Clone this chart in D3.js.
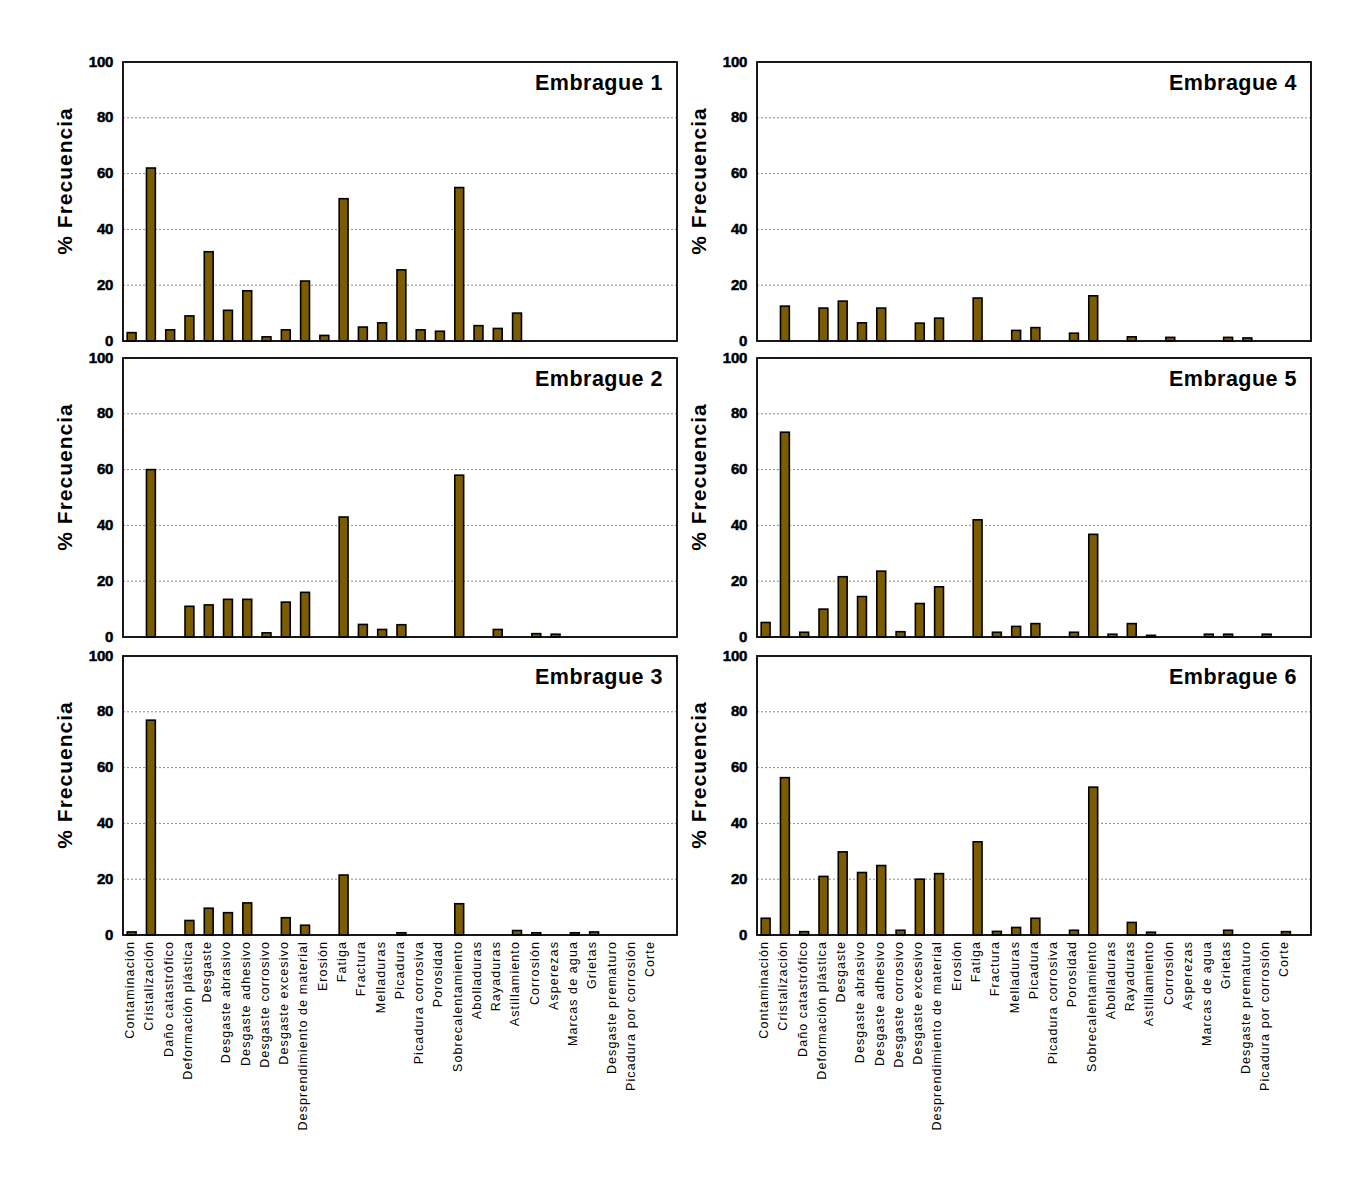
<!DOCTYPE html>
<html>
<head>
<meta charset="utf-8">
<script src="https://cdn.jsdelivr.net/npm/d3@7"></script>
<style>
  body { margin: 0; background: #fff; }
  svg { display: block; font-family: "Liberation Sans", Arial, sans-serif; }
  .tick-label { font-weight: bold; font-size: 15px; letter-spacing: -0.3px; stroke: #000; stroke-width: 0.5px; }
  .y-title { font-weight: bold; font-size: 21px; letter-spacing: 1px; }
  .panel-title { font-weight: bold; font-size: 21.5px; letter-spacing: 0.5px; }
  .cat-label { font-size: 12.5px; letter-spacing: 1.1px; }
</style>
</head>
<body>
<div id="chart"></div>
<script>
// Failure modes (x axis categories)
const categories = [
  'Contaminación', 'Cristalización', 'Daño catastrófico', 'Deformación plástica',
  'Desgaste', 'Desgaste abrasivo', 'Desgaste adhesivo', 'Desgaste corrosivo',
  'Desgaste excesivo', 'Desprendimiento de material', 'Erosión', 'Fatiga',
  'Fractura', 'Melladuras', 'Picadura', 'Picadura corrosiva', 'Porosidad',
  'Sobrecalentamiento', 'Abolladuras', 'Rayaduras', 'Astillamiento', 'Corrosión',
  'Asperezas', 'Marcas de agua', 'Grietas', 'Desgaste prematuro',
  'Picadura por corrosión', 'Corte'
];

// % frequency per clutch, one value per category
const embrague1 = [3, 62, 4, 9, 32, 11, 18, 1.5, 4, 21.5, 2, 51, 5, 6.5, 25.5, 4, 3.5, 55, 5.5, 4.5, 10, 0, 0, 0, 0, 0, 0, 0];
const embrague2 = [0, 60, 0, 11, 11.5, 13.5, 13.5, 1.5, 12.5, 16, 0, 43, 4.5, 2.7, 4.4, 0, 0, 58, 0, 2.7, 0, 1.2, 1, 0, 0, 0, 0, 0];
const embrague3 = [1.1, 77, 0, 5.2, 9.6, 8, 11.5, 0, 6.2, 3.5, 0, 21.5, 0, 0, 0.8, 0, 0, 11.2, 0, 0, 1.6, 0.8, 0, 0.8, 1.1, 0, 0, 0];
const embrague4 = [0, 12.5, 0, 11.8, 14.3, 6.5, 11.8, 0, 6.4, 8.2, 0, 15.4, 0, 3.8, 4.8, 0, 2.8, 16.2, 0, 1.5, 0, 1.3, 0, 0, 1.3, 1.1, 0, 0];
const embrague5 = [5.2, 73.4, 1.7, 10, 21.6, 14.5, 23.6, 1.9, 12, 18, 0, 42, 1.7, 3.8, 4.8, 0, 1.7, 36.8, 1, 4.8, 0.6, 0, 0, 1, 1, 0, 1, 0];
const embrague6 = [6, 56.4, 1.2, 21, 29.8, 22.4, 24.9, 1.7, 20, 22, 0, 33.4, 1.3, 2.7, 6, 0, 1.7, 53, 0, 4.5, 1, 0, 0, 0, 1.7, 0, 0, 1.2];

const titles = ['Embrague 1', 'Embrague 2', 'Embrague 3', 'Embrague 4', 'Embrague 5', 'Embrague 6'];
const seriesList = [embrague1, embrague2, embrague3, embrague4, embrague5, embrague6];
const yTicks = [0, 20, 40, 60, 80, 100];

const W = 1370, H = 1189;
const PLOT_W = 554, PLOT_H = 279;
const COL_X = [123, 757];
const ROW_Y = [62, 358, 656];
const BAR_COLOR = '#7c5c00';

const svg = d3.select('#chart').append('svg')
  .attr('width', W)
  .attr('height', H);

const xScale = d3.scaleBand()
  .domain(categories)
  .range([-1, PLOT_W * 28 / 28.75 - 1])
  .paddingInner(0.54)
  .paddingOuter(0.27);

const yScale = d3.scaleLinear().domain([0, 100]).range([PLOT_H, 0]);

seriesList.forEach((values, k) => {
  const col = Math.floor(k / 3);
  const row = k % 3;
  const g = svg.append('g')
    .attr('transform', `translate(${COL_X[col]},${ROW_Y[row]})`);

  // dotted gridlines
  g.selectAll('.grid')
    .data(yTicks.filter(t => t > 0 && t < 100))
    .join('line')
    .attr('x1', 0).attr('x2', PLOT_W)
    .attr('y1', d => yScale(d)).attr('y2', d => yScale(d))
    .attr('stroke', '#8a8a8a')
    .attr('stroke-width', 1)
    .attr('stroke-dasharray', '2,2');

  // y tick labels
  g.selectAll('.tick-label')
    .data(yTicks)
    .join('text')
    .attr('class', 'tick-label')
    .attr('x', -10)
    .attr('y', d => yScale(d))
    .attr('dy', '0.3em')
    .attr('text-anchor', 'end')
    .text(d => d);

  // bars
  const data = categories.map((c, i) => ({ c, v: values[i] })).filter(d => d.v > 0);
  g.selectAll('.bar')
    .data(data)
    .join('rect')
    .attr('x', d => xScale(d.c))
    .attr('y', d => yScale(d.v))
    .attr('width', xScale.bandwidth())
    .attr('height', d => yScale(0) - yScale(d.v))
    .attr('fill', BAR_COLOR)
    .attr('stroke', '#000')
    .attr('stroke-width', 1.6);

  // frame
  g.append('rect')
    .attr('width', PLOT_W)
    .attr('height', PLOT_H)
    .attr('fill', 'none')
    .attr('stroke', '#000')
    .attr('stroke-width', 1.8);

  g.append('text')
    .attr('class', 'panel-title')
    .attr('x', PLOT_W - 14)
    .attr('y', 28)
    .attr('text-anchor', 'end')
    .text(titles[k]);

  g.append('text')
    .attr('class', 'y-title')
    .attr('transform', `translate(-51,119) rotate(-90)`)
    .attr('text-anchor', 'middle')
    .text('% Frecuencia');

  // category labels only under the bottom row
  if (row === 2) {
    g.selectAll('.cat-label')
      .data(categories)
      .join('text')
      .attr('class', 'cat-label')
      .attr('transform', d => `translate(${xScale(d) + xScale.bandwidth() / 2 - 2},${PLOT_H + 6}) rotate(-90)`)
      .attr('dy', '0.35em')
      .attr('text-anchor', 'end')
      .text(d => d);
  }
});
</script>
</body>
</html>
